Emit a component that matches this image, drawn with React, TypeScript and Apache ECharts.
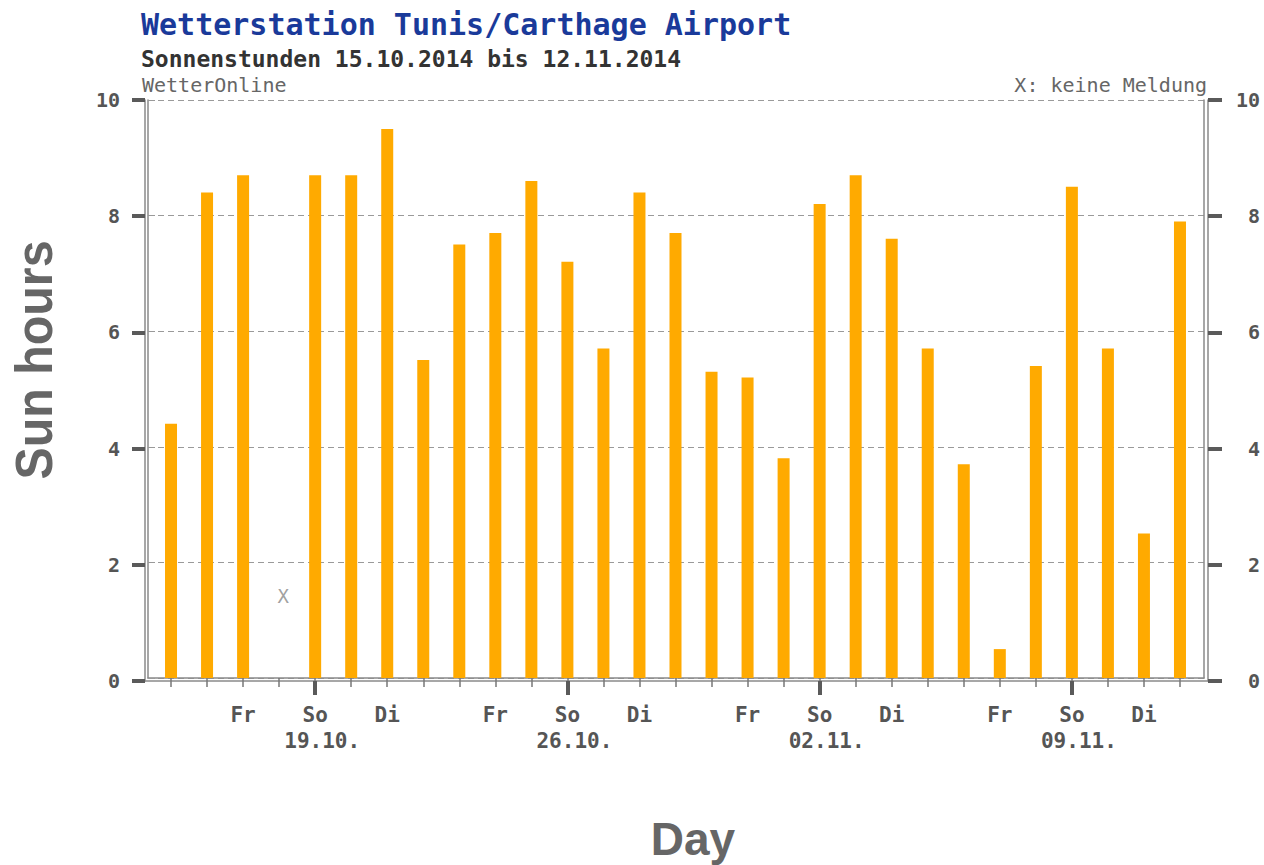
import React, { useEffect, useRef } from 'react';
import * as echarts from 'echarts';

// ---- data ----
const dates = [
  '15.10.', '16.10.', '17.10.', '18.10.', '19.10.', '20.10.', '21.10.',
  '22.10.', '23.10.', '24.10.', '25.10.', '26.10.', '27.10.', '28.10.',
  '29.10.', '30.10.', '31.10.', '01.11.', '02.11.', '03.11.', '04.11.',
  '05.11.', '06.11.', '07.11.', '08.11.', '09.11.', '10.11.', '11.11.', '12.11.',
];
const weekdays = [
  'Mi', 'Do', 'Fr', 'Sa', 'So', 'Mo', 'Di',
  'Mi', 'Do', 'Fr', 'Sa', 'So', 'Mo', 'Di',
  'Mi', 'Do', 'Fr', 'Sa', 'So', 'Mo', 'Di',
  'Mi', 'Do', 'Fr', 'Sa', 'So', 'Mo', 'Di',
  'Mi',
];
const labelledWeekdays = ['Fr', 'So', 'Di'];
const sunHours: (number | null)[] = [
  4.4, 8.4, 8.7, null, 8.7, 8.7, 9.5, 5.5, 7.5, 7.7, 8.6, 7.2, 5.7, 8.4, 7.7,
  5.3, 5.2, 3.8, 8.2, 8.7, 7.6, 5.7, 3.7, 0.5, 5.4, 8.5, 5.7, 2.5, 7.9,
];
const missingMarkY = 1.42;
const yMin = 0;
const yMax = 10;
const yInterval = 2;

const titleText = 'Wetterstation Tunis/Carthage Airport';
const subtitleText = 'Sonnenstunden 15.10.2014 bis 12.11.2014';
const sourceText = 'WetterOnline';
const noteText = 'X: keine Meldung';
const yName = 'Sun hours';
const xName = 'Day';

const MONO = '"DejaVu Sans Mono", "Liberation Mono", monospace';
const SANS = '"Liberation Sans", Arial, sans-serif';

export default function App() {
  const ref = useRef<HTMLDivElement>(null);

  useEffect(() => {
    if (!ref.current) return;
    const chart = echarts.init(ref.current, undefined, { renderer: 'svg' });

    const frameLine = { show: true, onZero: false, lineStyle: { color: '#8a8a8a', width: 1.5 } };
    const missingMarks = sunHours
      .map((v, i) => (v === null ? [dates[i], missingMarkY] : null))
      .filter((d) => d !== null);

    const yLabelStyle = {
      fontFamily: MONO,
      fontWeight: 'bold',
      fontSize: 20,
      color: '#555',
    };
    const xLabelStyle = {
      fontFamily: MONO,
      fontWeight: 'bold',
      fontSize: 21,
      lineHeight: 26,
      color: '#555',
    };

    const option: any = {
      animation: false,
      backgroundColor: '#fff',
      title: [
        {
          text: titleText, left: 141, top: 9, padding: 0,
          textStyle: { fontFamily: MONO, fontWeight: 'bold', fontSize: 30, lineHeight: 30, color: '#1a3a9a' },
        },
        {
          text: subtitleText, left: 141, top: 47, padding: 0,
          textStyle: { fontFamily: MONO, fontWeight: 'bold', fontSize: 23, lineHeight: 23, color: '#333' },
        },
        {
          text: sourceText, left: 142, top: 75, padding: 0,
          textStyle: { fontFamily: MONO, fontWeight: 'normal', fontSize: 20, lineHeight: 20, color: '#666' },
        },
        {
          text: noteText, right: 57, top: 75, padding: 0,
          textStyle: { fontFamily: MONO, fontWeight: 'normal', fontSize: 20, lineHeight: 20, color: '#666' },
        },
      ],
      graphic: [
        {
          type: 'text', x: 34, y: 360, rotation: Math.PI / 2, scaleX: 0.93,
          style: { text: yName, fontFamily: SANS, fontWeight: 'bold', fontSize: 52, fill: '#666', align: 'center', verticalAlign: 'middle' },
        },
        {
          type: 'text', x: 693, y: 839,
          style: { text: xName, fontFamily: SANS, fontWeight: 'bold', fontSize: 46, fill: '#666', align: 'center', verticalAlign: 'middle' },
        },
      ],
      grid: [
        { left: 148, right: 60, top: 100, bottom: 187 }, // inner frame
        { left: 145, right: 56, top: 100, bottom: 184 }, // outer frame
        { left: 153, right: 66, top: 100, bottom: 187 }, // bars
      ],
      xAxis: [
        { gridIndex: 0, type: 'value', position: 'bottom', min: 0, max: 1, axisLine: frameLine, axisTick: { show: false }, axisLabel: { show: false }, splitLine: { show: false } },
        { gridIndex: 1, type: 'value', position: 'bottom', min: 0, max: 1, axisLine: frameLine, axisTick: { show: false }, axisLabel: { show: false }, splitLine: { show: false } },
        {
          gridIndex: 2, type: 'category', position: 'bottom', data: dates, offset: 3,
          axisLine: { show: false },
          axisTick: { show: true, alignWithLabel: true, length: 9, lineStyle: { color: '#777', width: 1.5 } },
          axisLabel: {
            show: true, interval: 0, margin: 21,
            ...xLabelStyle,
            formatter: (_v: string, i: number) => {
              const wd = weekdays[i];
              if (!labelledWeekdays.includes(wd)) return '';
              return wd === 'So' ? `${wd}\n{d|${dates[i]}}` : wd;
            },
            rich: {
              d: { ...xLabelStyle, padding: [0, 0, 0, 14] },
            },
          },
          splitLine: { show: false },
        },
        {
          gridIndex: 2, type: 'category', position: 'bottom', data: dates, offset: 3,
          axisLine: { show: false },
          axisTick: {
            show: true, alignWithLabel: true, length: 14,
            interval: (i: number) => weekdays[i] === 'So',
            lineStyle: { color: '#5a5a5a', width: 4 },
          },
          axisLabel: { show: false },
          splitLine: { show: false },
        },
      ],
      yAxis: [
        {
          gridIndex: 0, position: 'left', type: 'value', min: yMin, max: yMax, interval: yInterval,
          axisLine: frameLine,
          axisTick: { show: true, inside: true, length: 7, lineStyle: { color: '#999', width: 1 } },
          axisLabel: { show: false },
          splitLine: { show: true, lineStyle: { color: '#9a9a9a', width: 1, type: [6, 4] } },
        },
        {
          gridIndex: 0, position: 'right', type: 'value', min: yMin, max: yMax, interval: yInterval,
          axisLine: frameLine, axisTick: { show: false }, axisLabel: { show: false }, splitLine: { show: false },
        },
        {
          gridIndex: 1, position: 'left', type: 'value', min: yMin, max: yMax, interval: yInterval,
          axisLine: frameLine,
          axisTick: { show: true, length: 13, lineStyle: { color: '#5a5a5a', width: 4 } },
          axisLabel: { show: true, margin: 25, ...yLabelStyle },
          splitLine: { show: false },
        },
        {
          gridIndex: 1, position: 'right', type: 'value', min: yMin, max: yMax, interval: yInterval,
          axisLine: frameLine,
          axisTick: { show: true, length: 14, lineStyle: { color: '#5a5a5a', width: 4 } },
          axisLabel: { show: true, margin: 52, align: 'right', ...yLabelStyle },
          splitLine: { show: false },
        },
        { gridIndex: 2, type: 'value', min: yMin, max: yMax, show: false },
      ],
      series: [
        {
          type: 'bar', xAxisIndex: 2, yAxisIndex: 4, data: sunHours, barWidth: 12,
          itemStyle: { color: '#ffaa00' },
        },
        {
          type: 'scatter', xAxisIndex: 2, yAxisIndex: 4, data: missingMarks, symbolSize: 1,
          itemStyle: { color: 'rgba(0,0,0,0)' },
          label: { show: true, position: 'inside', offset: [4, 0], formatter: 'X', fontFamily: MONO, fontSize: 19, color: '#888' },
        },
      ],
    };

    chart.setOption(option);
    return () => chart.dispose();
  }, []);

  return (
    <div
      ref={ref}
      style={{ position: 'absolute', left: 0, top: 0, width: 1264, height: 865 }}
    />
  );
}
